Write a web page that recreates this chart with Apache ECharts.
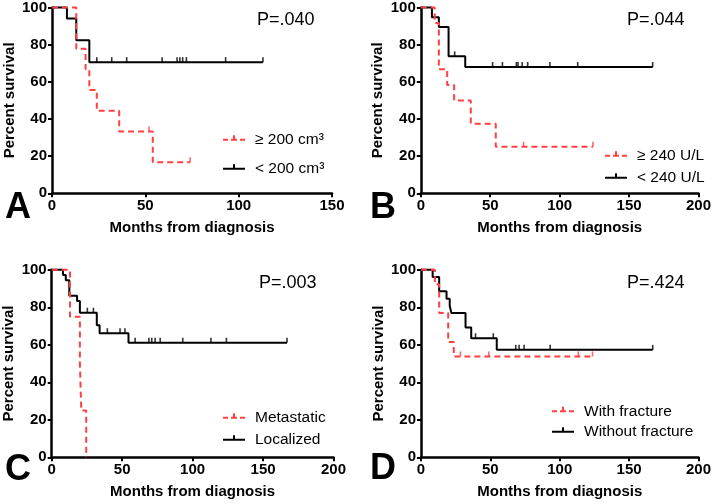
<!DOCTYPE html>
<html><head><meta charset="utf-8">
<script src="https://cdn.jsdelivr.net/npm/echarts@6/dist/echarts.min.js"></script>
<style>html,body{margin:0;padding:0;background:#fff}#c{width:714px;height:504px}</style>
</head><body><div id="c"></div>
<script>
// ---------- DATA ----------
const yTickStep = 20;
const xTickStep = 50;
const xMaxA = 150, xMaxB = 200, xMaxC = 200, xMaxD = 200;
const pValues = ['P=.040', 'P=.044', 'P=.003', 'P=.424'];
const panelLetters = ['A', 'B', 'C', 'D'];
const legendNames = [
  ['≥ 200 cm³', '< 200 cm³'],
  ['≥ 240 U/L', '< 240 U/L'],
  ['Metastatic', 'Localized'],
  ['With fracture', 'Without fracture']
];
// Panel A
const aRedT = [0, 13, 18, 20, 24, 36, 54, 74];
const aRedS = [100, 77.8, 66.7, 55.6, 44.4, 33.3, 16.7, 16.7];
const aRedCens = [52, 74];
const aBlkT = [0, 8, 13, 20, 113];
const aBlkS = [100, 94.1, 82.4, 70.6, 70.6];
const aBlkCens = [24, 32, 40, 59, 67, 68.5, 70, 72, 93, 113];
// Panel B
const bRedT = [0, 10, 13, 19, 24, 36, 54, 124];
const bRedS = [100, 91.7, 66.7, 58.3, 50, 37.5, 25, 25];
const bRedCens = [74, 124];
const bBlkT = [0, 8, 13, 20, 32, 167];
const bBlkS = [100, 94.7, 89.5, 73.7, 68.0, 68.0];
const bBlkCens = [24.4, 51.7, 58.8, 68.8, 70, 73, 77, 93, 113, 167];
// Panel C
const cRedT = [0, 13, 20, 21, 24.5];
const cRedS = [100, 75, 50, 25, 0];
const cRedCens = [];
const cBlkT = [0, 8, 10, 12.5, 18, 20, 32, 34, 54.5, 167];
const cBlkS = [100, 97.2, 94.4, 86.1, 83.3, 77.1, 70.4, 66.2, 61.1, 61.1];
const cBlkCens = [25.3, 29.6, 39.5, 48.5, 52, 59.2, 69, 71, 73.4, 77, 93, 113, 124, 167];
// Panel D
const dRedT = [0, 10, 13.1, 19.6, 23.6, 123.6];
const dRedS = [100, 92.3, 76.9, 61.5, 53.8, 53.8];
const dRedCens = [28.4, 48.9, 113.4, 123.6];
const dBlkT = [0, 8.4, 13.1, 18.4, 20.7, 21.9, 32.1, 36.2, 54.6, 167];
const dBlkS = [100, 96.2, 88.5, 84.6, 80.8, 76.9, 69.2, 63.5, 57.3, 57.3];
const dBlkCens = [39.3, 52.1, 68.3, 70.7, 74.3, 93.1, 167];

// ---------- STYLE / LAYOUT ----------
const FONT = "'Liberation Sans', Arial, sans-serif";
const RED = '#ff4040', BLK = '#000';
const grids = [
  {left: 52, top: 6.8, width: 280, height: 186.5},
  {left: 420.8, top: 6.8, width: 281.2, height: 186.5},
  {left: 51.7, top: 269.8, width: 281.8, height: 187.5},
  {left: 421, top: 269.8, width: 280.5, height: 187.5}
];
const xMaxes = [xMaxA, xMaxB, xMaxC, xMaxD];
const panels = [
  [aRedT, aRedS, aRedCens, aBlkT, aBlkS, aBlkCens],
  [bRedT, bRedS, bRedCens, bBlkT, bBlkS, bBlkCens],
  [cRedT, cRedS, cRedCens, cBlkT, cBlkS, cBlkCens],
  [dRedT, dRedS, dRedCens, dBlkT, dBlkS, dBlkCens]
];
const pPos = [[257, 11], [627, 11], [259, 274], [627, 274]];
const letterPos = [[5, 190], [370, 190], [5, 452], [370, 451]];
const legendPos = [
  [[223, 130], [223, 159]],
  [[605, 146], [605, 168]],
  [[223, 408], [223, 430]],
  [[552, 401.5], [552, 422]]
];

function survAt(T, S, t) {
  let v = S[0];
  for (let i = 0; i < T.length; i++) { if (T[i] <= t) v = S[i]; }
  return v;
}

const redIcon = 'path://M0,4h5v2h-5z M8,4h6v2h-6z M17,4h5v2h-5z M10,0.5h2v3.5h-2z M0,9.99h0.01v0.01h-0.01z';
const blkIcon = 'path://M0,4h22v2h-22z M10,0.5h2v3.5h-2z M0,9.99h0.01v0.01h-0.01z';

const xAxes = [], yAxes = [], series = [], legends = [], titles = [];
for (let p = 0; p < 4; p++) {
  xAxes.push({
    gridIndex: p, type: 'value', min: 0, max: xMaxes[p], interval: xTickStep,
    name: 'Months from diagnosis', nameLocation: 'middle', nameGap: 27,
    nameTextStyle: {fontFamily: FONT, fontSize: 15, fontWeight: 'bold', color: '#000'},
    axisLine: {show: true, lineStyle: {color: '#000', width: 2.5}},
    axisTick: {show: true, length: 4, lineStyle: {color: '#000', width: 2}},
    axisLabel: {fontFamily: FONT, fontSize: 15, fontWeight: 'bold', color: '#000', margin: 5},
    splitLine: {show: false}
  });
  yAxes.push({
    gridIndex: p, type: 'value', min: 0, max: 100, interval: yTickStep,
    name: 'Percent survival', nameLocation: 'middle', nameGap: 35,
    nameTextStyle: {fontFamily: FONT, fontSize: 15, fontWeight: 'bold', color: '#000'},
    axisLine: {show: true, lineStyle: {color: '#000', width: 2.5}},
    axisTick: {show: true, length: 4, lineStyle: {color: '#000', width: 2}},
    axisLabel: {fontFamily: FONT, fontSize: 15, fontWeight: 'bold', color: '#000', margin: 5},
    splitLine: {show: false}
  });
  const [rT, rS, rC, bT, bS, bC] = panels[p];
  const names = legendNames[p];
  series.push({
    type: 'line', name: names[1], xAxisIndex: p, yAxisIndex: p, step: 'end', symbol: 'none',
    clip: false, animation: false, z: 2,
    data: bT.map((t, i) => [t, bS[i]]),
    lineStyle: {color: BLK, width: 2}, itemStyle: {color: BLK}
  });
  series.push({
    type: 'scatter', name: 'cens-b-' + p, xAxisIndex: p, yAxisIndex: p,
    symbol: 'rect', symbolSize: [1.6, 5], symbolOffset: [0, -2.5], animation: false, silent: true, z: 2,
    data: bC.map(t => [t, survAt(bT, bS, t)]), itemStyle: {color: BLK}
  });
  series.push({
    type: 'line', name: names[0], xAxisIndex: p, yAxisIndex: p, step: 'end', symbol: 'none',
    clip: false, animation: false, z: 3,
    data: rT.map((t, i) => [t, rS[i]]),
    lineStyle: {color: RED, width: 2, type: [6, 4]}, itemStyle: {color: RED}
  });
  series.push({
    type: 'scatter', name: 'cens-r-' + p, xAxisIndex: p, yAxisIndex: p,
    symbol: 'rect', symbolSize: [1.6, 5], symbolOffset: [0, -2.5], animation: false, silent: true, z: 3,
    data: rC.map(t => [t, survAt(rT, rS, t)]), itemStyle: {color: RED}
  });
  [0, 1].forEach(k => {
    legends.push({
      left: legendPos[p][k][0], top: legendPos[p][k][1], orient: 'vertical', padding: 0,
      itemWidth: 22, itemHeight: 10, selectedMode: false,
      data: [{name: names[k], icon: k === 0 ? redIcon : blkIcon}],
      itemStyle: {borderWidth: 0},
      textStyle: {fontFamily: FONT, fontSize: 15.5, color: '#000', padding: [0, 0, 0, 5], lineHeight: 20}
    });
  });
  titles.push({
    text: pValues[p], left: pPos[p][0], top: pPos[p][1], padding: 0,
    textStyle: {fontFamily: FONT, fontSize: 18, fontWeight: 'normal', color: '#000'}
  });
  titles.push({
    text: panelLetters[p], left: letterPos[p][0], top: letterPos[p][1], padding: 0,
    textStyle: {fontFamily: FONT, fontSize: 36, fontWeight: 'bold', color: '#000'}
  });
}

const chart = echarts.init(document.getElementById('c'), null, {renderer: 'canvas'});
chart.setOption({
  animation: false,
  backgroundColor: '#fff',
  title: titles,
  grid: grids,
  xAxis: xAxes,
  yAxis: yAxes,
  legend: legends,
  series: series
});
</script>
</body></html>
